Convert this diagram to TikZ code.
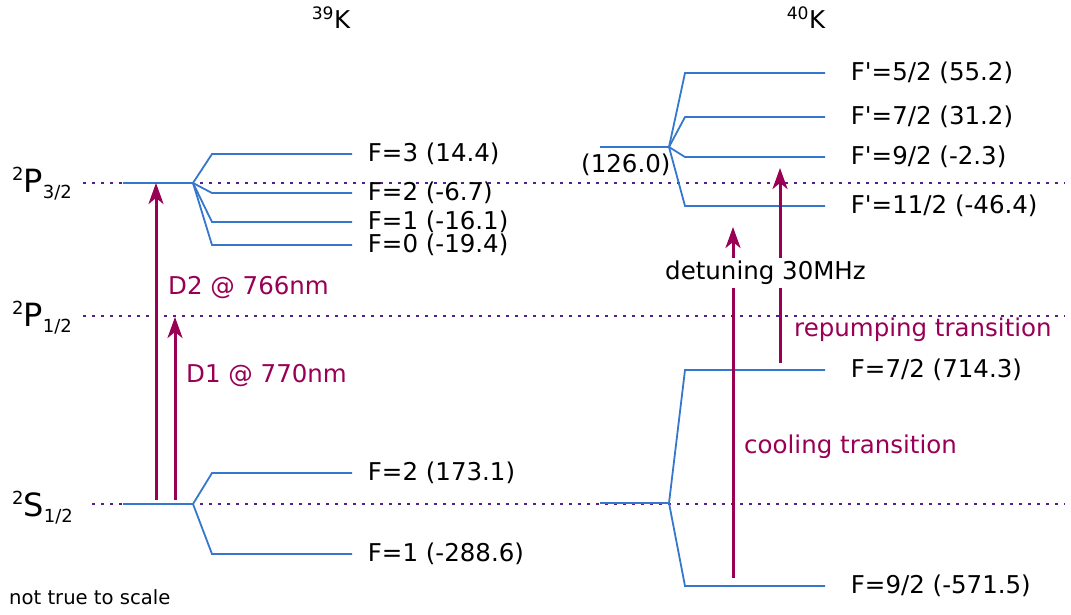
\documentclass[tikz,border=0pt]{standalone}
\usepackage{fontspec}
\setmainfont{DejaVu Sans}
\usepackage{tikz}
\usetikzlibrary{arrows.meta}
\definecolor{levelblue}{RGB}{52,119,204}
\definecolor{transpurple}{RGB}{153,0,85}
\definecolor{refviolet}{RGB}{85,30,140}
\newcommand{\termsym}[3]{\raisebox{12pt}{\fontsize{18}{20}\selectfont#1}#2\raisebox{-6pt}{\fontsize{18}{20}\selectfont#3}}
\tikzset{
  lvl/.style={draw=levelblue,line width=1.8pt},
  refline/.style={draw=refviolet,line width=2.6pt,dash pattern=on 2.6pt off 6.4pt},
  trans/.style={-{Stealth[length=21pt,width=15pt,inset=6pt]},draw=transpurple,line width=3pt},
  lab/.style={font=\fontsize{24.5}{29}\selectfont,inner sep=0pt,anchor=west},
  tlab/.style={lab,text=transpurple},
  term/.style={font=\fontsize{32}{38}\selectfont,inner sep=0pt,anchor=base west},
  iso/.style={font=\fontsize{24.5}{29}\selectfont,inner sep=0pt}
}

\begin{document}
\begin{tikzpicture}[x=1pt,y=-1pt]
  \useasboundingbox (0,0) rectangle (1071,614);

  % fine structure terms
  \node[term] (p32) at (12,192) {\termsym{2}{P}{3/2}};
  \node[term] (p12) at (12,326) {\termsym{2}{P}{1/2}};
  \node[term] (s12) at (12,516) {\termsym{2}{S}{1/2}};
  \draw[refline] (83,183) -- (1065,183);
  \draw[refline] (83,316) -- (1065,316);
  \draw[refline] (92,504) -- (1065,504);

  % isotopes
  \node[iso] (k39) at (331,18) {\textsuperscript{39}K};
  \node[iso] (k40) at (806,18) {\textsuperscript{40}K};

  % 39K hyperfine levels
  \coordinate (k39p) at (193,183);
  \coordinate (k39s) at (193,504);
  \draw[lvl] (123,183) -- (k39p);
  \draw[lvl] (123,504) -- (k39s);
  \foreach \y/\nm/\txt in {154/pf3/{F=3 (14.4)},193/pf2/{F=2 (-6.7)},222/pf1/{F=1 (-16.1)},245/pf0/{F=0 (-19.4)}}
    \draw[lvl] (k39p) -- (212,\y) -- (352,\y) node[lab] (k39\nm) at (367,\y) {\txt};
  \foreach \y/\nm/\txt in {473/sf2/{F=2 (173.1)},554/sf1/{F=1 (-288.6)}}
    \draw[lvl] (k39s) -- (212,\y) -- (352,\y) node[lab] (k39\nm) at (367,\y) {\txt};

  % 40K hyperfine levels
  \coordinate (k40p) at (669,147);
  \coordinate (k40s) at (669,503);
  \draw[lvl] (600,147) -- (k40p);
  \draw[lvl] (600,503) -- (k40s);
  \node[lab] (k40c) at (581,165) {(126.0)};
  \foreach \y/\nm/\txt in {73/pf5/{F\textquotesingle=5/2 (55.2)},117/pf7/{F\textquotesingle=7/2 (31.2)},157/pf9/{F\textquotesingle=9/2 (-2.3)},206/pf11/{F\textquotesingle=11/2 (-46.4)}}
    \draw[lvl] (k40p) -- (685,\y) -- (825,\y) node[lab] (k40\nm) at (850,\y) {\txt};
  \foreach \y/\nm/\txt in {370/sf7/{F=7/2 (714.3)},586/sf9/{F=9/2 (-571.5)}}
    \draw[lvl] (k40s) -- (685,\y) -- (825,\y) node[lab] (k40\nm) at (850,\y) {\txt};

  % transitions
  \coordinate (d2lo) at (156,500);
  \coordinate (d2hi) at (156,183);
  \coordinate (d1lo) at (175,500);
  \coordinate (d1hi) at (175,317);
  \draw[trans] (d2lo) -- (d2hi);
  \draw[trans] (d1lo) -- (d1hi);
  \node[tlab] (d2) at (168,288) {D2 @ 766nm};
  \node[tlab] (d1) at (186,376) {D1 @ 770nm};

  \coordinate (coollo) at (733,578);
  \coordinate (coolhi) at (733,227);
  \coordinate (replo) at (780,363);
  \coordinate (rephi) at (780,168);
  \draw[trans] (coollo) -- (coolhi);
  \draw[trans] (replo) -- (rephi);
  \node[lab,fill=white,inner ysep=3pt] (detune) at (665,273) {detuning 30MHz};
  \node[tlab] (repump) at (794,330) {repumping transition};
  \node[tlab] (cooling) at (744,447) {cooling transition};

  \node[lab,font=\fontsize{19.6}{23}\selectfont] (note) at (9,597) {not true to scale};
\end{tikzpicture}
\end{document}
